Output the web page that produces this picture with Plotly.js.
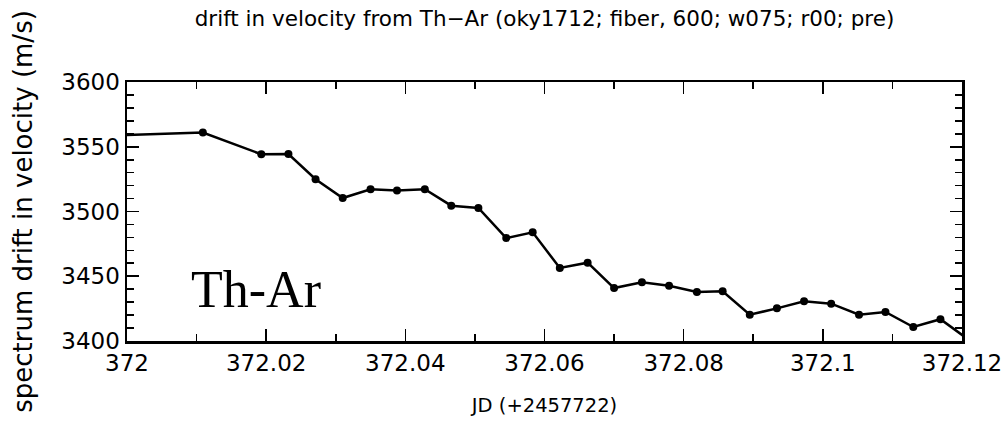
<!DOCTYPE html>
<html>
<head>
<meta charset="utf-8">
<script src="https://cdn.plot.ly/plotly-3.0.1.min.js"></script>
<style>
  html, body { margin: 0; padding: 0; background: #fff; }
  #chart { width: 1005px; height: 426px; }
</style>
</head>
<body>
<div id="chart"></div>
<script>
// Julian date offsets (JD - 2457722) of each Th-Ar exposure
const jd = [
  371.9970, 372.0109, 372.0193, 372.0232, 372.0271, 372.0310, 372.0350,
  372.0388, 372.0428, 372.0466, 372.0505, 372.0545, 372.0583, 372.0622,
  372.0662, 372.0700, 372.0740, 372.0779, 372.0819, 372.0856, 372.0895,
  372.0934, 372.0973, 372.1012, 372.1052, 372.1090, 372.1130, 372.1169,
  372.1225
];

// Measured velocity drift of the spectrum (m/s)
const drift = [
  3558.6, 3561.0, 3544.2, 3544.4, 3524.9, 3510.4, 3517.2,
  3516.2, 3517.2, 3504.5, 3502.7, 3479.5, 3483.9, 3456.4,
  3460.5, 3440.9, 3445.3, 3442.7, 3437.8, 3438.4, 3420.3,
  3425.2, 3430.7, 3428.8, 3420.3, 3422.4, 3410.8, 3416.8,
  3395.0
];

const xTickVals = [372, 372.02, 372.04, 372.06, 372.08, 372.1, 372.12];
const xTickText = ['372', '372.02', '372.04', '372.06', '372.08', '372.1', '372.12'];
const yTickVals = [3400, 3450, 3500, 3550, 3600];

const sans = '"DejaVu Sans", sans-serif';
const tickFont = { family: sans, size: 23, color: '#000' };

const trace = {
  x: jd,
  y: drift,
  type: 'scatter',
  mode: 'lines+markers',
  line: { color: '#000', width: 2.5 },
  marker: { color: '#000', size: 8 },
  cliponaxis: true,
  hoverinfo: 'x+y'
};

const axisCommon = {
  showgrid: false,
  zeroline: false,
  showline: true,
  linecolor: '#000',
  linewidth: 2.5,
  mirror: 'ticks',
  ticks: 'inside',
  ticklen: 12,
  tickwidth: 1.6,
  tickcolor: '#000',
  tickfont: tickFont
};

const layout = {
  width: 1005,
  height: 426,
  margin: { l: 127, r: 43, t: 82, b: 85 },
  paper_bgcolor: '#fff',
  plot_bgcolor: '#fff',
  showlegend: false,
  title: {
    text: 'drift in velocity from Th\u2212Ar (oky1712; fiber, 600; w075; r00; pre)',
    font: { family: sans, size: 21.5, color: '#000' },
    x: 0.5, xref: 'paper', xanchor: 'center',
    y: 1 - 18 / 426, yref: 'container', yanchor: 'middle'
  },
  xaxis: Object.assign({}, axisCommon, {
    range: [372, 372.12],
    tickmode: 'array',
    tickvals: xTickVals,
    ticktext: xTickText,
    minor: { dtick: 0.01, tick0: 372, ticks: 'inside', ticklen: 7, tickwidth: 1.6, tickcolor: '#000' },
    title: { text: 'JD (+2457722)', font: { family: sans, size: 19.5, color: '#000' }, standoff: 24 }
  }),
  yaxis: Object.assign({}, axisCommon, {
    range: [3400, 3600],
    tickmode: 'array',
    tickvals: yTickVals,
    minor: { dtick: 10, tick0: 3400, ticks: 'inside', ticklen: 7, tickwidth: 1.6, tickcolor: '#000' },
    title: { text: 'spectrum drift in velocity (m/s)', font: { family: sans, size: 26, color: '#000' }, standoff: 22 }
  }),
  annotations: [{
    text: 'Th-Ar',
    xref: 'x', yref: 'y',
    x: 372.0089, y: 3440,
    xanchor: 'left', yanchor: 'middle',
    showarrow: false,
    font: { family: '"Liberation Serif", "Times New Roman", serif', size: 52, color: '#000' }
  }]
};

Plotly.newPlot('chart', [trace], layout, { staticPlot: true, displayModeBar: false });
</script>
</body>
</html>
